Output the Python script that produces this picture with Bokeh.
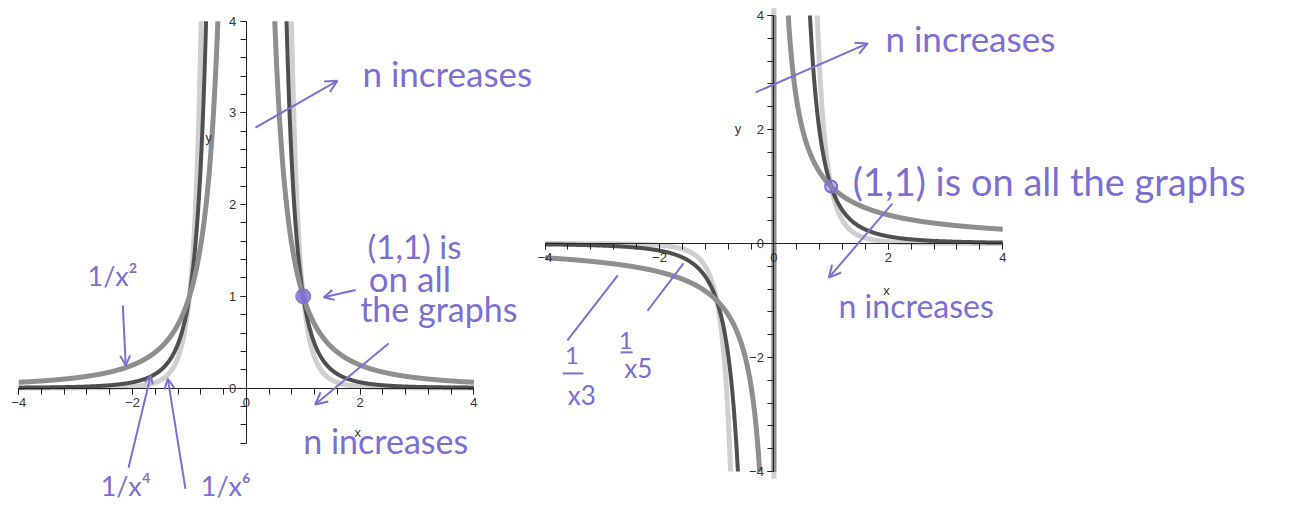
import numpy as np
from bokeh.plotting import figure
from bokeh.models import Range1d, LinearAxis, FixedTicker, Arrow, OpenHead
from bokeh.core.properties import value
from bokeh.embed import file_html
from bokeh.resources import INLINE

# Exponents n of y = 1/x^n drawn in each panel, with their pen shades
even_powers = [6, 4, 2]
even_colors = ["#cfcfcf", "#4f4f4f", "#8e8e8e"]
even_widths = [5, 4, 5]
odd_powers = [5, 3, 1]
odd_colors = ["#cfcfcf", "#4f4f4f", "#8e8e8e"]
odd_widths = [5, 4, 5]

# Viewing windows of the two panels
even_view = (-4.0, 4.0, -0.6, 4.0)
odd_view = (-4.0, 4.0, -4.0, 4.0)

# Axis ticks
even_x_major = [-4, -2, 0, 2, 4]
even_y_major = [0, 1, 2, 3, 4]
odd_x_major = [-4, -2, 0, 2, 4]
odd_y_major = [-4, -2, 0, 2, 4]

INK = "#7b6fd3"
HAND = value("Lato")
TICK_FONT_NAME = "Liberation Sans"
TICK_FONT = value(TICK_FONT_NAME)


def clip_segment(x0, y0, x1, y1, xmin, xmax, ymin, ymax):
    dx, dy = x1 - x0, y1 - y0
    t0, t1 = 0.0, 1.0
    for p_, q in ((-dx, x0 - xmin), (dx, xmax - x0), (-dy, y0 - ymin), (dy, ymax - y0)):
        if p_ == 0:
            if q < 0:
                return None
        else:
            r = q / p_
            if p_ < 0:
                if r > t1:
                    return None
                t0 = max(t0, r)
            else:
                if r < t0:
                    return None
                t1 = min(t1, r)
    return (x0 + t0 * dx, y0 + t0 * dy), (x0 + t1 * dx, y0 + t1 * dy)


def clipped_curve(n, view, samples=4000):
    """Sample y = 1/x^n and clip the polyline to the viewing window."""
    xmin, xmax, ymin, ymax = view
    x = np.linspace(xmin, xmax, samples)
    y = 1.0 / x ** n
    xs, ys = [], []
    prev_end = None
    for i in range(len(x) - 1):
        seg = clip_segment(x[i], y[i], x[i + 1], y[i + 1], xmin, xmax, ymin, ymax)
        if seg is None:
            prev_end = None
            continue
        (ax, ay), (bx, by) = seg
        if prev_end is None or prev_end != (ax, ay):
            if xs:
                xs.append(np.nan)
                ys.append(np.nan)
            xs.append(ax)
            ys.append(ay)
        xs.append(bx)
        ys.append(by)
        prev_end = (bx, by)
    return np.array(xs), np.array(ys)


p = figure(
    width=1294, height=506,
    x_range=Range1d(-4.32, 18.42), y_range=Range1d(-1.292, 4.226),
    x_axis_type=None, y_axis_type=None,
    toolbar_location=None, output_backend="svg",
    min_border=0, outline_line_color=None,
)
p.extra_x_ranges = {"r": Range1d(-13.52, 9.10)}
p.extra_y_ranges = {"r": Range1d(-4.614, 4.263)}
p.grid.visible = False
p.background_fill_color = "white"
p.border_fill_color = "white"


def make_axis(major, bounds, step, rname=None):
    minor = list(np.round(np.arange(bounds[0], bounds[1] + 1e-9, step), 6))
    kw = dict(x_range_name=rname, y_range_name=rname) if rname else {}
    return LinearAxis(
        fixed_location=0, bounds=bounds,
        ticker=FixedTicker(ticks=major, minor_ticks=minor),
        axis_line_color="#222222", axis_line_width=1,
        major_tick_line_color="#222222", minor_tick_line_color="#222222",
        major_tick_out=6, major_tick_in=0, minor_tick_out=6, minor_tick_in=0,
        major_label_text_font=TICK_FONT_NAME, major_label_text_font_size="13px",
        major_label_text_color="#333333", major_label_standoff=4,
        **kw,
    )


# Left panel: even powers
p.add_layout(make_axis(even_x_major, (-4, 4), 0.4), "below")
p.add_layout(make_axis(even_y_major, (-0.6, 4), 0.2), "left")

for n, c, w in zip(even_powers, even_colors, even_widths):
    cx, cy = clipped_curve(n, even_view)
    p.line(cx, cy, line_color=c, line_width=w, line_join="round")

# Right panel: odd powers
p.add_layout(make_axis(odd_x_major, (-4, 4), 0.4, "r"), "below")
p.add_layout(make_axis(odd_y_major, (-4, 4), 0.4, "r"), "left")

for n, c, w in zip(odd_powers, odd_colors, odd_widths):
    cx, cy = clipped_curve(n, odd_view)
    p.line(cx, cy, line_color=c, line_width=w, line_join="round",
           x_range_name="r", y_range_name="r")

# Axis names
p.text(x=[-0.66, 1.96], y=[2.73, -0.485], text=["y", "x"], text_font=TICK_FONT,
       text_font_size="13px", text_color="#333333", text_align="center",
       text_baseline="middle")
p.text(x=[-0.63, 1.97], y=[2.02, -0.82], text=["y", "x"], text_font=TICK_FONT,
       text_font_size="13px", text_color="#333333", text_align="center",
       text_baseline="middle", x_range_name="r", y_range_name="r")

# Common point (1, 1)
p.scatter([1], [1], size=15, fill_color=INK, fill_alpha=0.85, line_color=INK)
p.scatter([1], [1], size=12, fill_color=INK, fill_alpha=0.45, line_color=INK,
          line_width=2, x_range_name="r", y_range_name="r")


def arrow(x0, y0, x1, y1, rname=None, size=12):
    kw = dict(x_range_name=rname, y_range_name=rname) if rname else {}
    p.add_layout(Arrow(
        end=OpenHead(size=size, line_color=INK, line_width=2),
        x_start=x0, y_start=y0, x_end=x1, y_end=y1,
        line_color=INK, line_width=2, **kw))


def note(xs, ys, texts, size, rname=None, align="left"):
    kw = dict(x_range_name=rname, y_range_name=rname) if rname else {}
    p.text(x=xs, y=ys, text=texts, text_font=HAND, text_font_size=size,
           text_color=INK, text_align=align, text_baseline="middle", **kw)


# Notes on the left panel
note([2.04], [3.43], ["n increases"], "35px")
arrow(0.16, 2.84, 1.60, 3.35)
note([2.13], [1.55], ["(1,1) is"], "33px")
note([2.15], [1.20], ["on all"], "35px")
note([2.00], [0.87], ["the graphs"], "34px")
arrow(1.92, 1.07, 1.36, 0.99, size=10)
arrow(2.50, 0.485, 1.21, -0.18)
note([1.00], [-0.57], ["n increases"], "34px")
note([-2.79], [1.23], ["1/x²"], "27px")
arrow(-2.17, 0.90, -2.12, 0.245, size=10)
note([-2.56], [-1.06], ["1/x⁴"], "27px")
arrow(-2.07, -0.87, -1.68, 0.136, size=8)
note([-0.80], [-1.06], ["1/x⁶"], "27px")
arrow(-1.07, -1.10, -1.38, 0.10, size=10)

# Notes on the right panel
note([1.95], [3.60], ["n increases"], "35px", "r")
arrow(-0.32, 2.65, 1.64, 3.51, "r")
note([1.38], [1.105], ["(1,1) is on all the graphs"], "38px", "r")
arrow(2.07, 0.70, 0.96, -0.60, "r")
note([1.13], [-1.09], ["n increases"], "32px", "r")

note([-3.53, -2.59], [-1.96, -1.70], ["1", "1"], "24px", "r", "center")
note([-3.36, -2.37], [-2.65, -2.18], ["x3", "x5"], "26px", "r", "center")
p.segment(x0=[-3.69, -2.68], y0=[-2.28, -1.91], x1=[-3.33, -2.47], y1=[-2.28, -1.91],
          line_color=INK, line_width=2, x_range_name="r", y_range_name="r")
p.segment(x0=[-2.73, -1.58], y0=[-0.56, -0.35], x1=[-3.61, -2.21], y1=[-1.70, -1.18],
          line_color=INK, line_width=2, x_range_name="r", y_range_name="r")

open("out.html", "w").write(file_html(p, INLINE))
